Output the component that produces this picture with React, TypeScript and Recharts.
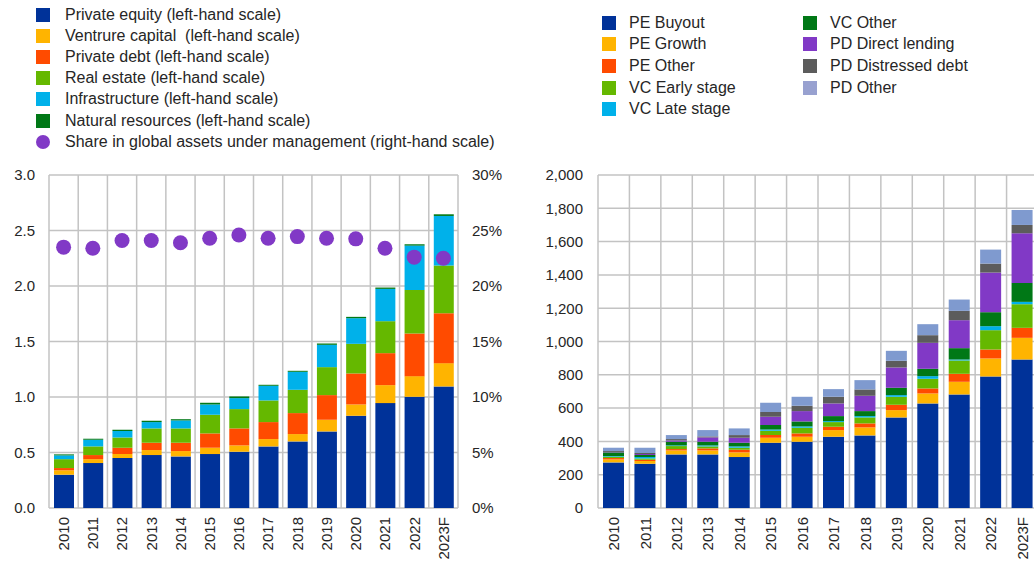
import React from 'react';
import { ComposedChart, Bar, Line, XAxis, YAxis, CartesianGrid } from 'recharts';

// ---------- shared categories ----------
const years = ['2010', '2011', '2012', '2013', '2014', '2015', '2016', '2017', '2018', '2019', '2020', '2021', '2022', '2023F'];

// ---------- left chart (USD trillions, left-hand scale) ----------
const privateEquity = [0.30, 0.405, 0.45, 0.477, 0.465, 0.486, 0.507, 0.555, 0.60, 0.69, 0.831, 0.945, 1.002, 1.095];
const ventureCapital = [0.04, 0.035, 0.036, 0.045, 0.048, 0.057, 0.057, 0.066, 0.066, 0.105, 0.102, 0.162, 0.186, 0.21];
const privateDebt = [0.02, 0.037, 0.057, 0.066, 0.075, 0.129, 0.153, 0.153, 0.189, 0.222, 0.279, 0.288, 0.384, 0.45];
const realEstate = [0.08, 0.078, 0.093, 0.129, 0.129, 0.168, 0.174, 0.195, 0.21, 0.252, 0.267, 0.288, 0.393, 0.429];
const infrastructure = [0.034, 0.06, 0.057, 0.057, 0.072, 0.093, 0.099, 0.132, 0.162, 0.201, 0.231, 0.291, 0.399, 0.447];
const naturalResources = [0.009, 0.009, 0.012, 0.012, 0.011, 0.015, 0.015, 0.009, 0.009, 0.012, 0.012, 0.012, 0.012, 0.015];
// share in global AUM, % (right-hand scale)
const shareAUM = [23.5, 23.4, 24.1, 24.1, 23.9, 24.3, 24.6, 24.3, 24.45, 24.3, 24.25, 23.4, 22.6, 22.5];

const leftTicks = [0, 0.5, 1, 1.5, 2, 2.5, 3];
const rightPctTicks = [0, 5, 10, 15, 20, 25, 30];

// ---------- right chart (USD billions) ----------
const peBuyout = [274, 266, 322, 322, 306, 392, 398, 428, 436, 544, 628, 682, 790, 892];
const peGrowth = [18, 16, 24, 24, 28, 30, 30, 40, 48, 44, 60, 76, 108, 130];
const peOther = [8, 8, 8, 12, 16, 16, 20, 20, 24, 32, 30, 48, 54, 60];
const vcEarly = [8, 8, 18, 12, 12, 26, 34, 28, 36, 48, 58, 80, 116, 142];
const vcLate = [4, 8, 4, 6, 8, 8, 8, 6, 8, 10, 16, 6, 24, 14];
const vcOther = [22, 12, 22, 22, 22, 26, 30, 30, 30, 44, 44, 68, 84, 114];
const pdDirect = [2, 6, 8, 26, 30, 50, 62, 76, 92, 122, 156, 168, 238, 298];
const pdDistressed = [6, 6, 8, 6, 16, 28, 32, 40, 38, 40, 46, 56, 54, 50];
const pdOther = [20, 32, 24, 38, 40, 56, 54, 46, 56, 60, 66, 68, 84, 90];

const rightTicks = [0, 200, 400, 600, 800, 1000, 1200, 1400, 1600, 1800, 2000];

// ---------- styles ----------
const FONT = '"Liberation Sans", Arial, sans-serif';
const TXT = '#262626';
const GRID = '#c3c3c3';

const C = {
  blue: '#003299',
  yellow: '#FFB400',
  orange: '#FF4B00',
  green: '#65B800',
  cyan: '#00B1EA',
  dgreen: '#007816',
  purple: '#8139C6',
  grey: '#5C5C5C',
  lblue: '#7F9ACF',
  lblueLegend: '#98A1D0',
};

const leftSeries = [
  { key: 'pe', name: 'Private equity (left-hand scale)', data: privateEquity, color: C.blue },
  { key: 'vc', name: 'Ventrure capital  (left-hand scale)', data: ventureCapital, color: C.yellow },
  { key: 'pd', name: 'Private debt (left-hand scale)', data: privateDebt, color: C.orange },
  { key: 're', name: 'Real estate (left-hand scale)', data: realEstate, color: C.green },
  { key: 'inf', name: 'Infrastructure (left-hand scale)', data: infrastructure, color: C.cyan },
  { key: 'nr', name: 'Natural resources (left-hand scale)', data: naturalResources, color: C.dgreen },
];

const rightSeries = [
  { key: 'b', name: 'PE Buyout', data: peBuyout, color: C.blue, legend: C.blue },
  { key: 'g', name: 'PE Growth', data: peGrowth, color: C.yellow, legend: C.yellow },
  { key: 'po', name: 'PE Other', data: peOther, color: C.orange, legend: C.orange },
  { key: 've', name: 'VC Early stage', data: vcEarly, color: C.green, legend: C.green },
  { key: 'vl', name: 'VC Late stage', data: vcLate, color: C.cyan, legend: C.cyan },
  { key: 'vo', name: 'VC Other', data: vcOther, color: C.dgreen, legend: C.dgreen },
  { key: 'dl', name: 'PD Direct lending', data: pdDirect, color: C.purple, legend: C.purple },
  { key: 'dd', name: 'PD Distressed debt', data: pdDistressed, color: C.grey, legend: C.grey },
  { key: 'do', name: 'PD Other', data: pdOther, color: C.lblue, legend: C.lblueLegend },
];

const leftData = years.map((y, i) => {
  const row: any = { year: y, share: shareAUM[i] };
  leftSeries.forEach((s) => (row[s.key] = s.data[i]));
  return row;
});

const rightData = years.map((y, i) => {
  const row: any = { year: y };
  rightSeries.forEach((s) => (row[s.key] = s.data[i]));
  return row;
});

const XTick = (props: any) => {
  const { x, y, payload } = props;
  return (
    <text
      x={x}
      y={y}
      transform={`rotate(-90 ${x} ${y})`}
      textAnchor="end"
      dy="0.36em"
      fontSize={15}
      fill={TXT}
      fontFamily={FONT}
    >
      {payload.value}
    </text>
  );
};

const boundaryGen = (n: number) => (p: any) => {
  const off = p.offset;
  return Array.from({ length: n + 1 }, (_, i) => off.left + (i * off.width) / n);
};

const tickStyle = { fontSize: 15, fill: TXT, fontFamily: FONT };

const textStyle: React.CSSProperties = {
  position: 'absolute',
  fontFamily: FONT,
  fontSize: 16,
  color: TXT,
  whiteSpace: 'pre',
  lineHeight: '18px',
};

export default function App() {
  const leftRows = [14.5, 35.7, 56.8, 78, 99.3, 120.6, 142.3];
  const rCol = [
    { sw: 602, tx: 629 },
    { sw: 803, tx: 830 },
  ];
  const rRows = [22.5, 44.2, 66, 87.5, 109.2];

  return (
    <div
      style={{
        position: 'absolute',
        left: 0,
        top: 0,
        width: 1034,
        height: 564,
        overflow: 'hidden',
        background: '#fff',
      }}
    >
      {/* Left legend */}
      {leftSeries.map((s, i) => (
        <React.Fragment key={s.key}>
          <div
            style={{
              position: 'absolute',
              left: 36,
              top: leftRows[i] - 7,
              width: 14,
              height: 14,
              background: s.color,
            }}
          />
          <div style={{ ...textStyle, left: 65, top: leftRows[i] - 9 }}>{s.name}</div>
        </React.Fragment>
      ))}
      <div
        style={{
          position: 'absolute',
          left: 36,
          top: leftRows[6] - 7,
          width: 14,
          height: 14,
          borderRadius: 7,
          background: C.purple,
        }}
      />
      <div style={{ ...textStyle, left: 65, top: leftRows[6] - 9 }}>
        Share in global assets under management (right-hand scale)
      </div>

      {/* Right legend */}
      {rightSeries.map((s, i) => {
        const col = i < 5 ? 0 : 1;
        const row = i < 5 ? i : i - 5;
        return (
          <React.Fragment key={s.key}>
            <div
              style={{
                position: 'absolute',
                left: rCol[col].sw,
                top: rRows[row] - 7,
                width: 14,
                height: 14,
                background: s.legend,
              }}
            />
            <div style={{ ...textStyle, left: rCol[col].tx, top: rRows[row] - 9 }}>{s.name}</div>
          </React.Fragment>
        );
      })}

      {/* Left chart */}
      <div style={{ position: 'absolute', left: 0, top: 0 }}>
        <ComposedChart
          width={520}
          height={564}
          data={leftData}
          margin={{ top: 175, right: 0, bottom: 0, left: 0 }}
          barSize={20}
        >
          <CartesianGrid
            yAxisId="left"
            stroke={GRID}
            strokeWidth={1.5}
            verticalCoordinatesGenerator={boundaryGen(years.length)}
          />
          <XAxis
            dataKey="year"
            interval={0}
            tick={<XTick />}
            height={56}
            tickLine={false}
            axisLine={false}
            tickSize={0}
            tickMargin={9}
          />
          <YAxis
            yAxisId="left"
            width={49}
            domain={[0, 3]}
            ticks={leftTicks}
            tickFormatter={(v: number) => v.toFixed(1)}
            tick={tickStyle}
            tickLine={false}
            axisLine={false}
            tickSize={0}
            tickMargin={14}
          />
          <YAxis
            yAxisId="right"
            orientation="right"
            width={62}
            domain={[0, 30]}
            ticks={rightPctTicks}
            tickFormatter={(v: number) => `${v}%`}
            tick={tickStyle}
            tickLine={false}
            axisLine={false}
            tickSize={0}
            tickMargin={14}
          />
          {leftSeries.map((s) => (
            <Bar
              key={s.key}
              yAxisId="left"
              dataKey={s.key}
              stackId="a"
              fill={s.color}
              isAnimationActive={false}
            />
          ))}
          <Line
            yAxisId="right"
            dataKey="share"
            stroke="none"
            strokeWidth={0}
            dot={{ r: 7.5, fill: C.purple, stroke: 'none' }}
            activeDot={false}
            isAnimationActive={false}
          />
        </ComposedChart>
      </div>

      {/* Right chart */}
      <div style={{ position: 'absolute', left: 520, top: 0 }}>
        <ComposedChart
          width={520}
          height={564}
          data={rightData}
          margin={{ top: 175, right: 2, bottom: 0, left: 0 }}
          barSize={21}
        >
          <CartesianGrid
            stroke={GRID}
            strokeWidth={1.5}
            verticalCoordinatesGenerator={boundaryGen(years.length)}
          />
          <XAxis
            dataKey="year"
            interval={0}
            tick={<XTick />}
            height={56}
            tickLine={false}
            axisLine={false}
            tickSize={0}
            tickMargin={9}
          />
          <YAxis
            width={78}
            domain={[0, 2000]}
            ticks={rightTicks}
            tickFormatter={(v: number) => v.toLocaleString('en-US')}
            tick={tickStyle}
            tickLine={false}
            axisLine={false}
            tickSize={0}
            tickMargin={15}
          />
          {rightSeries.map((s) => (
            <Bar key={s.key} dataKey={s.key} stackId="a" fill={s.color} isAnimationActive={false} />
          ))}
        </ComposedChart>
      </div>
    </div>
  );
}
